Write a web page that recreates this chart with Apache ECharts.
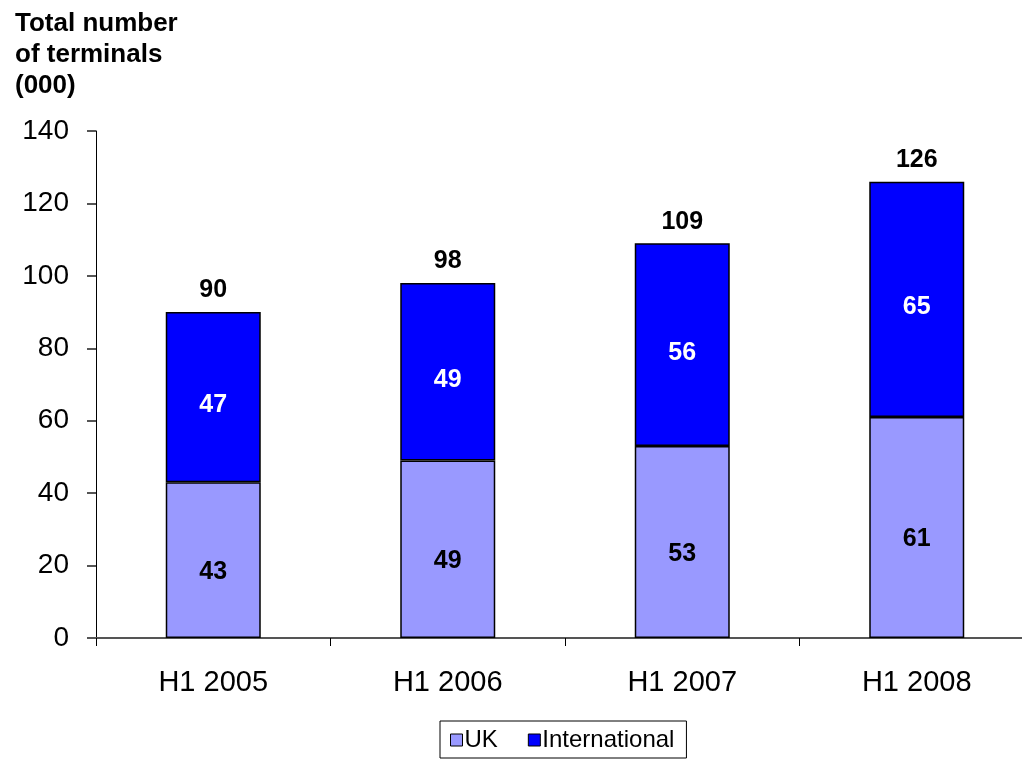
<!DOCTYPE html>
<html>
<head>
<meta charset="utf-8">
<script src="https://cdn.jsdelivr.net/npm/echarts@6/dist/echarts.min.js"></script>
<style>
  html, body { margin: 0; padding: 0; background: #fff; }
  #chart { width: 1022px; height: 759px; }
</style>
</head>
<body>
<div id="chart"></div>
<script>
var periods = ['H1 2005', 'H1 2006', 'H1 2007', 'H1 2008'];
var ukValues = [43, 49, 53, 61];
var intlValues = [47, 49, 56, 65];
var totals = [90, 98, 109, 126];
var yTicks = [0, 20, 40, 60, 80, 100, 120, 140];

var dom = document.getElementById('chart');
var myChart = echarts.init(dom);

var option = {
    backgroundColor: '#ffffff',
    animation: false,
    textStyle: { fontFamily: 'Liberation Sans, Arial, sans-serif' },
    title: {
        text: 'Total number\nof terminals\n(000)',
        left: 10,
        top: 3,
        textStyle: {
            fontSize: 26,
            fontWeight: 'bold',
            color: '#000',
            lineHeight: 31,
            fontFamily: 'Liberation Sans, Arial, sans-serif'
        }
    },
    legend: {
        data: ['UK', 'International'],
        left: 440,
        top: 721,
        itemWidth: 12,
        itemHeight: 12,
        itemGap: 30,
        padding: [7, 12, 6, 10],
        borderColor: '#000',
        borderWidth: 1,
        icon: 'rect',
        itemStyle: { borderColor: '#000', borderWidth: 1 },
        textStyle: { fontSize: 24, color: '#000', padding: [0, 0, 0, -3] }
    },
    grid: {
        left: 96,
        top: 131,
        width: 938,
        bottom: 121,
        outerBoundsMode: 'none'
    },
    xAxis: {
        type: 'category',
        data: periods,
        axisLine: { lineStyle: { color: '#555', width: 2 } },
        axisTick: { show: true, length: 8, lineStyle: { color: '#000', width: 1 } },
        axisLabel: { fontSize: 29, color: '#000', margin: 30 }
    },
    yAxis: {
        type: 'value',
        min: yTicks[0],
        max: yTicks[yTicks.length - 1],
        interval: 20,
        splitLine: { show: false },
        axisLine: { show: true, lineStyle: { color: '#000', width: 1 } },
        axisTick: { show: true, inside: false, length: 9, lineStyle: { color: '#555', width: 2 } },
        axisLabel: { fontSize: 28, color: '#000', margin: 27 }
    },
    series: [
        {
            name: 'UK',
            type: 'bar',
            stack: 'total',
            barWidth: 95,
            data: ukValues,
            itemStyle: { color: '#9999ff', borderColor: '#000', borderWidth: 1.5 },
            label: {
                show: true,
                position: 'inside',
                offset: [0, 12],
                fontSize: 25,
                fontWeight: 'bold',
                color: '#000'
            }
        },
        {
            name: 'International',
            type: 'bar',
            stack: 'total',
            data: intlValues,
            itemStyle: { color: '#0000ff', borderColor: '#000', borderWidth: 1.5 },
            label: {
                show: true,
                position: 'inside',
                offset: [0, 8],
                fontSize: 25,
                fontWeight: 'bold',
                color: '#fff'
            }
        },
        {
            name: 'Total',
            type: 'bar',
            stack: 'total',
            data: totals.map(function () { return 0; }),
            itemStyle: { color: 'transparent' },
            label: {
                show: true,
                position: 'top',
                distance: 9,
                fontSize: 25,
                fontWeight: 'bold',
                color: '#000',
                formatter: function (p) { return totals[p.dataIndex]; }
            }
        }
    ]
};

myChart.setOption(option, true);
</script>
</body>
</html>
